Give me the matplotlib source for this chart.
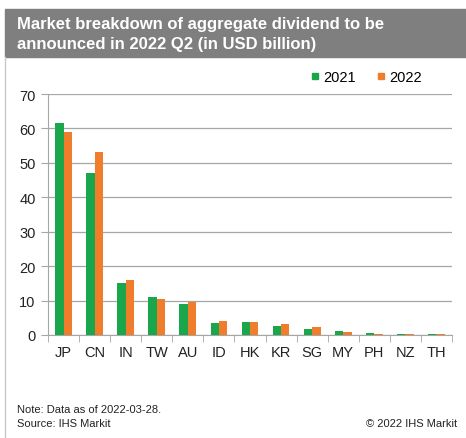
import matplotlib
matplotlib.use("Agg")
import matplotlib.pyplot as plt
from matplotlib.patches import Rectangle
from matplotlib.lines import Line2D
import numpy as np

# data
markets = ["JP", "CN", "IN", "TW", "AU", "ID", "HK", "KR", "SG", "MY", "PH", "NZ", "TH"]
div_2021 = [61.6, 47.0, 15.0, 11.1, 8.9, 3.4, 3.9, 2.5, 1.6, 1.2, 0.5, 0.2, 0.2]
div_2022 = [58.9, 53.2, 16.0, 10.6, 9.7, 4.1, 3.9, 3.1, 2.4, 0.9, 0.3, 0.2, 0.3]
series_labels = ["2021", "2022"]

green = "#1aa64a"
orange = "#f07d2c"

plt.rcParams['font.family'] = ['Liberation Sans', 'DejaVu Sans']

fig = plt.figure(figsize=(4.66, 4.39), dpi=100)

# grey title band and left frame line
fig.patches.append(Rectangle((5 / 466, 1 - 58 / 439), 1, 48 / 439,
                             transform=fig.transFigure, color="#7f7f7f", zorder=0))
fig.lines.append(Line2D([5 / 466, 5 / 466], [0, 1 - 58 / 439],
                        transform=fig.transFigure, color="#c8c8c8", lw=1))
fig.text(17 / 466, 1 - 24 / 439, "Market breakdown of aggregate dividend to be",
         color="white", fontsize=12, fontweight="bold", va="center")
fig.text(17 / 466, 1 - 45 / 439, "announced in 2022 Q2 (in USD billion)",
         color="white", fontsize=12, fontweight="bold", va="center")

ax = fig.add_axes([48 / 466, 1 - 336 / 439, (452 - 48) / 466, (336 - 95) / 439])
x = np.arange(len(markets))
w = 0.27
ax.bar(x - w / 2, div_2021, w, color=green, zorder=3)
ax.bar(x + w / 2, div_2022, w, color=orange, zorder=3)

ax.set_ylim(0, 70)
ax.set_xlim(-0.5, len(markets) - 0.5)
ax.set_yticks(range(0, 71, 10))
ax.yaxis.grid(True, color="#a6a6a6", lw=0.9, zorder=0)
for s in ["top", "right"]:
    ax.spines[s].set_visible(False)
for s in ["left", "bottom"]:
    ax.spines[s].set_color("#a6a6a6")
ax.tick_params(axis="y", colors="#a6a6a6", labelcolor="#222222", labelsize=10.5,
               length=5, pad=4)
ax.set_xticks(x)
ax.set_xticklabels(markets)
ax.tick_params(axis="x", length=0, labelsize=10.5, labelcolor="#222222", pad=7)
ax.set_xticks(np.arange(-0.5, len(markets), 1), minor=True)
ax.tick_params(axis="x", which="minor", length=5, colors="#a6a6a6")

# small square legend markers
handles = [Line2D([], [], ls="none", marker="s", markersize=5, color=c)
           for c in (green, orange)]
ax.legend(handles, series_labels, loc="upper right",
          bbox_to_anchor=((432 - 48) / 404, 1.14), ncol=2, frameon=False,
          fontsize=10.5, handlelength=0.5, handletextpad=0.3, columnspacing=1.5,
          borderpad=0.2)

fig.text(17 / 466, 1 - 410 / 439, "Note: Data as of 2022-03-28.", fontsize=8,
         color="#222222", va="center")
fig.text(17 / 466, 1 - 424 / 439, "Source: IHS Markit", fontsize=8,
         color="#222222", va="center")
fig.text(457 / 466, 1 - 424 / 439, "\u00a9 2022 IHS Markit", fontsize=8,
         color="#222222", va="center", ha="right")

fig.savefig("out.png", dpi=100, facecolor="white")
